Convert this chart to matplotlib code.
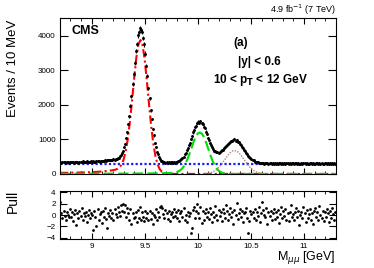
import numpy as np
import matplotlib
matplotlib.use("Agg")
import matplotlib.pyplot as plt
from matplotlib.ticker import MultipleLocator

plt.rcParams["font.family"] = ["Liberation Sans", "DejaVu Sans"]

# dimuon mass histogram, 10 MeV bins from 8.70 GeV
mass_lo = 8.70
bin_width = 0.01
events = [
    338, 322, 351, 333, 345, 329, 340, 356, 331, 343,
    336, 352, 347, 330, 358, 341, 349, 327, 345, 355,
    344, 361, 338, 353, 349, 366, 340, 357, 351, 362,
    353, 368, 358, 349, 371, 362, 377, 360, 374, 369,
    382, 375, 391, 386, 398, 392, 404, 399, 412, 408,
    428, 417, 443, 439, 466, 474, 518, 541, 612, 668,
    779, 874, 1051, 1203, 1447, 1667, 1981, 2249, 2608, 2897,
    3218, 3556, 3770, 4015, 4118, 4231, 4169, 4127, 3930, 3752,
    3489, 3141, 2852, 2483, 2190, 1843, 1591, 1305, 1118, 906,
    785, 640, 566, 479, 447, 389, 378, 346, 351, 325,
    339, 321, 336, 318, 334, 342, 325, 344, 331, 356,
    352, 381, 379, 417, 428, 476, 501, 566, 603, 689,
    743, 845, 906, 1021, 1088, 1203, 1262, 1364, 1401, 1479,
    1511, 1488, 1526, 1467, 1455, 1371, 1334, 1229, 1170, 1052,
    991, 905, 850, 775, 720, 672, 655, 628, 634, 620,
    640, 652, 686, 706, 738, 772, 810, 832, 866, 884,
    921, 952, 958, 990, 1004, 968, 975, 936, 922, 871,
    846, 788, 761, 694, 665, 604, 578, 519, 501, 452,
    436, 398, 391, 360, 357, 333, 338, 315, 323, 306,
    309, 318, 296, 312, 304, 321, 299, 307, 315, 293,
    311, 302, 319, 296, 308, 290, 314, 305, 298, 322,
    301, 309, 293, 316, 304, 297, 311, 288, 306, 318,
    299, 307, 313, 294, 320, 302, 296, 309, 291, 315,
    305, 298, 317, 301, 289, 310, 303, 296, 314, 300,
    292, 308, 316, 299, 305, 287, 312, 301, 295, 310,
    303, 297, 314, 291, 306, 300, 318, 293, 304, 299,
]

pulls = [
    2.4, 0.3, -0.6, 0.8, -0.2, -0.9, 0.5, 0.1, -0.4, 1.0,
    -0.3, 0.6, -1.1, 0.2, 0.9, -1.8, 0.4, -0.5, 0.7, -0.1,
    1.2, -0.8, 0.3, -0.2, 0.6, -1.3, 0.0, 0.9, -0.6, 0.4,
    0.1, -2.6, 0.7, -0.4, -2.0, 1.1, -0.9, 0.2, 0.5, -1.4,
    0.8, -0.3, 1.3, -0.7, -2.3, 0.4, -0.1, 0.9, -0.5, 0.3,
    -0.8, 1.0, 0.2, -0.4, 1.4, 0.6, -0.2, 1.7, 0.8, 1.9,
    0.5, 1.8, -0.3, 1.2, 0.4, -0.9, 1.0, -1.5, 0.3, -0.6,
    -0.4, 0.6, -1.2, 0.9, -0.5, 1.4, -0.8, 0.5, -0.3, -1.0,
    0.7, -0.6, 0.4, -0.9, 0.8, -0.7, 0.3, -1.6, 0.1, -0.4,
    1.1, -0.8, 0.6, -0.3, 1.5, 1.6, 1.3, 0.2, -0.5, 0.9,
    0.4, -0.7, 0.8, -1.1, 0.2, 0.6, -0.4, 1.0, -0.2, 0.5,
    -0.6, 0.9, -1.0, 0.3, 0.7, -0.3, 1.2, -0.8, 0.1, -1.3,
    0.6, -0.2, 0.4, -3.2, -2.3, 0.9, 1.4, -0.5, 0.8, 1.9,
    0.3, -0.6, 1.5, -1.4, 0.7, -0.9, 0.4, 1.1, -0.3, 0.6,
    -0.7, 1.2, 0.2, -1.2, 0.5, -0.4, 1.6, 0.1, -0.8, 0.9,
    -0.2, 0.6, -1.1, 1.0, 0.3, -0.5, 1.7, 0.8, -0.9, 0.2,
    1.3, -0.4, 0.6, -1.5, 0.9, 0.0, 2.2, -0.7, 0.4, 1.1,
    -0.3, 0.7, -1.3, 0.3, 0.5, 1.2, -0.6, -3.1, -1.0, 0.8,
    0.2, 0.5, -0.5, 1.0, -0.8, 0.6, -0.1, 1.4, -1.2, 0.4,
    2.3, 0.9, 0.1, -0.4, 1.3, -1.6, 0.5, -0.2, 0.8, -0.9,
    0.3, 1.1, -0.7, 0.6, -0.3, 0.9, -1.4, 0.2, 1.5, -0.5,
    0.7, -0.1, 1.0, -0.8, 0.4, -1.1, 0.6, 1.7, -0.4, 0.2,
    -0.9, 0.5, 1.2, -0.3, 0.8, -1.7, 0.1, 0.6, -0.6, 1.4,
    0.3, -1.2, 0.9, -0.5, 0.2, 1.1, -0.8, 0.4, -1.5, 0.7,
    1.3, -0.4, 0.6, -0.9, 1.6, 0.0, -0.6, 0.8, -1.0, 0.5,
    -0.3, 1.0, 0.4, -1.3, 0.7, -0.5, 1.2, 0.2, -0.8, 0.6,
]

# fit components (events / 10 MeV)
bkg_x = [8.70, 11.30]
bkg_y = [300, 300]

ups1s_x = [8.70, 8.74, 8.78, 8.82, 8.86, 8.90, 8.94, 8.98, 9.02, 9.06,
           9.10, 9.14, 9.18, 9.20, 9.22, 9.24, 9.26, 9.28, 9.30, 9.32,
           9.34, 9.36, 9.38, 9.40, 9.42, 9.44, 9.46, 9.48, 9.50, 9.52,
           9.54, 9.56, 9.58, 9.60, 9.62, 9.64, 9.66, 9.68, 9.70, 9.72,
           9.74, 11.30]
ups1s_y = [30, 32, 34, 37, 40, 42, 46, 50, 55, 62,
           72, 85, 99, 109, 121, 143, 184, 263, 409, 647,
           1011, 1508, 2115, 2767, 3356, 3755, 3880, 3725, 3296, 2687,
           2020, 1398, 893, 525, 285, 142, 66, 28, 11, 4,
           1, 0]

ups2s_x = [8.70, 9.00, 9.30, 9.50, 9.60, 9.70, 9.72, 9.74, 9.76, 9.78,
           9.80, 9.82, 9.84, 9.86, 9.88, 9.90, 9.92, 9.94, 9.96, 9.98,
           10.00, 10.02, 10.04, 10.06, 10.08, 10.10, 10.12, 10.14, 10.16, 10.18,
           10.20, 10.22, 10.24, 10.26, 10.28, 10.30, 10.32, 11.30]
ups2s_y = [3, 6, 10, 14, 17, 22, 24, 27, 32, 39,
           52, 78, 120, 186, 282, 412, 572, 752, 932, 1082,
           1176, 1200, 1161, 1052, 892, 709, 528, 368, 240, 146,
           84, 45, 22, 11, 5, 2, 1, 0]

ups3s_x = [10.045, 10.065, 10.085, 10.105, 10.125, 10.145, 10.165, 10.185,
           10.205, 10.225, 10.245, 10.265, 10.285, 10.305, 10.325, 10.345,
           10.365, 10.385, 10.405, 10.425, 10.445, 10.465, 10.485, 10.505,
           10.525, 10.545, 10.565, 10.585, 10.605, 10.625, 10.645]
ups3s_y = [4, 8, 14, 24, 40, 64, 100, 150, 215, 292, 376, 462, 545, 615, 663, 680,
           663, 615, 545, 462, 376, 292, 215, 150, 100, 64, 40, 24, 14, 8, 4]


def main():
    centres = mass_lo + bin_width * (np.arange(len(events)) + 0.5)
    counts = np.array(events, dtype=float)

    fig = plt.figure(figsize=(3.74, 2.68), dpi=100)
    ax = fig.add_axes([0.160, 0.351, 0.738, 0.582])
    axp = fig.add_axes([0.160, 0.108, 0.738, 0.179])

    ax.plot(bkg_x, bkg_y, color="#1a1aff", lw=1.6, ls=(0, (1, 1)))
    ax.plot(ups1s_x, ups1s_y, color="red", lw=1.5, ls=(0, (4, 1.5, 1, 1.5)))
    ax.plot(ups2s_x, ups2s_y, color="#00dd00", lw=1.5, ls=(0, (5, 2)))
    ax.plot(ups3s_x, ups3s_y, color="#b08878", lw=1.0, ls=(0, (1, 1)))
    ax.errorbar(centres, counts, yerr=np.sqrt(counts), fmt="o", ms=2.1,
                mew=0, color="black", elinewidth=0.8, capsize=0)

    ax.set_xlim(8.70, 11.30)
    ax.set_ylim(0, 4520)
    ax.set_yticks([0, 1000, 2000, 3000, 4000])
    ax.xaxis.set_major_locator(MultipleLocator(0.5))
    ax.xaxis.set_minor_locator(MultipleLocator(0.1))
    ax.tick_params(axis="both", which="both", direction="in", top=True,
                   right=True, labelsize=5.8, pad=3)
    ax.tick_params(axis="y", which="major", length=6)
    ax.tick_params(axis="x", which="major", length=4)
    ax.tick_params(axis="x", which="minor", length=2)
    ax.tick_params(axis="x", labelbottom=False)

    axp.plot(centres, pulls, "o", ms=2.0, mew=0, color="black")
    axp.set_xlim(8.70, 11.30)
    axp.set_ylim(-4.25, 4.25)
    axp.set_yticks([-4, -2, 0, 2, 4])
    axp.xaxis.set_minor_locator(MultipleLocator(0.1))
    axp.set_xticks([9, 9.5, 10, 10.5, 11])
    axp.set_xticklabels(["9", "9.5", "10", "10.5", "11"])
    axp.tick_params(axis="both", which="both", direction="in", top=True,
                    right=True, labelsize=5.8, pad=3)
    axp.tick_params(axis="y", which="major", length=5)
    axp.tick_params(axis="x", which="major", length=4)
    axp.tick_params(axis="x", which="minor", length=2)

    fig.text(13 / 374, 1 - 20 / 268, "Events / 10 MeV", rotation=90,
             ha="center", va="top", fontsize=9.5)
    fig.text(13 / 374, 1 - 190 / 268, "Pull", rotation=90,
             ha="center", va="top", fontsize=10)
    fig.text(336 / 374, 1 - 258 / 268, r"M$_{\mu\mu}$ [GeV]",
             ha="right", va="center", fontsize=9)
    fig.text(336 / 374, 1 - 10 / 268, r"4.9 fb$^{-1}$ (7 TeV)",
             ha="right", va="center", fontsize=6.5)
    fig.text(72 / 374, 1 - 31 / 268, "CMS", ha="left", va="center",
             fontsize=9, fontweight="bold")
    fig.text(241 / 374, 1 - 43 / 268, "(a)", ha="center", va="center",
             fontsize=8.5, fontweight="bold")
    fig.text(259 / 374, 1 - 62 / 268, "|y| < 0.6", ha="center", va="center",
             fontsize=8.5, fontweight="bold")
    fig.text(260 / 374, 1 - 80 / 268, r"10 < p$_\mathbf{T}$ < 12 GeV",
             ha="center", va="center", fontsize=8.5, fontweight="bold")

    fig.savefig("out.png", dpi=100)


if __name__ == "__main__":
    main()
